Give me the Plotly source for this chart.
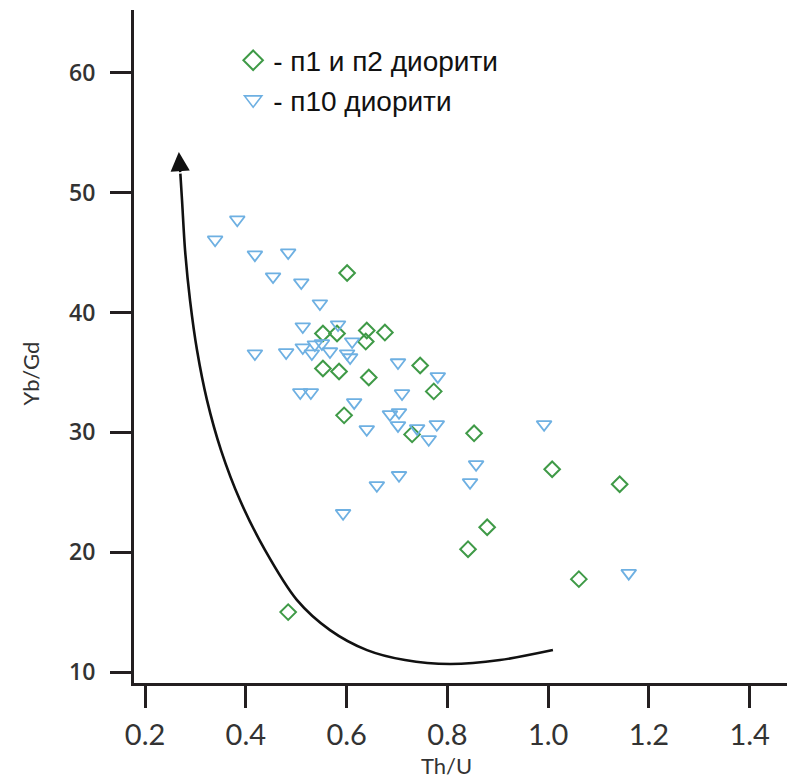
import plotly.graph_objects as go

# п1 и п2 диорити (green diamonds)
d12_thu = [0.601, 0.553, 0.581, 0.640, 0.676, 0.638, 0.553, 0.585, 0.644, 0.746,
           0.773, 0.595, 0.730, 0.853, 1.008, 1.142, 0.879, 0.841, 1.061, 0.484]
d12_ybgd = [43.3, 38.25, 38.25, 38.5, 38.33, 37.58, 35.33, 35.08, 34.58, 35.58,
            33.42, 31.42, 29.83, 29.92, 26.92, 25.67, 22.08, 20.25, 17.75, 15.0]

# п10 диорити (blue triangles)
d10_thu = [0.339, 0.383, 0.418, 0.484, 0.454, 0.510, 0.547, 0.513, 0.583, 0.418,
           0.480, 0.513, 0.531, 0.537, 0.551, 0.567, 0.611, 0.601, 0.607, 0.702,
           0.781, 0.710, 0.508, 0.529, 0.615, 0.686, 0.704, 0.702, 0.640, 0.740,
           0.779, 0.763, 0.704, 0.660, 0.593, 0.857, 0.845, 0.992, 1.160]
d10_ybgd = [46.08, 47.75, 44.83, 45.0, 43.0, 42.5, 40.75, 38.83, 39.0, 36.58,
            36.67, 37.08, 36.58, 37.33, 37.42, 36.75, 37.58, 36.58, 36.25, 35.83,
            34.67, 33.25, 33.33, 33.33, 32.5, 31.5, 31.67, 30.58, 30.25, 30.33,
            30.67, 29.42, 26.42, 25.58, 23.25, 27.33, 25.83, 30.67, 18.25]

# trend arrow path (from right end towards the arrow tip)
curve_thu = [1.0095, 0.9044, 0.8052, 0.7159, 0.6405, 0.5671, 0.5016, 0.4381,
             0.3885, 0.3508, 0.3230, 0.3032, 0.2893, 0.2794, 0.2734, 0.2700]
curve_ybgd = [11.83, 11.0, 10.67, 11.0, 11.83, 13.5, 16.0, 20.17,
              24.33, 28.5, 32.67, 36.83, 41.0, 45.17, 49.33, 51.6]
arrow_tip = (0.2670, 53.4)

x_ticks = [0.2, 0.4, 0.6, 0.8, 1.0, 1.2, 1.4]
x_ticktext = ["0.2", "0.4", "0.6", "0.8", "1.0", "1.2", "1.4"]
y_ticks = [10, 20, 30, 40, 50, 60]

green = "#3f9a47"
blue = "#6eb0e2"
axis_col = "#231f20"

fig = go.Figure()

fig.add_trace(go.Scatter(
    x=curve_thu, y=curve_ybgd, mode="lines",
    line=dict(color="#111111", width=2.6, shape="spline", smoothing=0.9),
    showlegend=False, hoverinfo="skip"))

fig.add_trace(go.Scatter(
    x=d12_thu, y=d12_ybgd, mode="markers", name="- п1 и п2 диорити",
    legendgroup="a", showlegend=False,
    marker=dict(symbol="diamond-open", size=12, color=green, line=dict(width=2, color=green))))

fig.add_trace(go.Scatter(
    x=d10_thu, y=d10_ybgd, mode="markers", name="- п10 диорити",
    legendgroup="b", showlegend=False,
    marker=dict(symbol="triangle-down-open", size=13, color=blue, line=dict(width=1.8, color=blue))))

# legend entries (larger symbols, as in the reference legend)
fig.add_trace(go.Scatter(
    x=[None], y=[None], mode="markers", name="- п1 и п2 диорити", legendgroup="a",
    marker=dict(symbol="diamond-open", size=15, color=green, line=dict(width=2, color=green))))
fig.add_trace(go.Scatter(
    x=[None], y=[None], mode="markers", name="- п10 диорити", legendgroup="b",
    marker=dict(symbol="triangle-down-open", size=15, color=blue, line=dict(width=1.6, color=blue))))

fig.add_annotation(
    x=arrow_tip[0], y=arrow_tip[1], ax=curve_thu[-1], ay=curve_ybgd[-1],
    xref="x", yref="y", axref="x", ayref="y", text="", showarrow=True,
    arrowhead=2, arrowsize=1.6, arrowwidth=2.4, arrowcolor="#111111", standoff=0)

fig.add_annotation(
    x=0.5, xref="paper", y=-0.123, yref="paper", text="Th/U", showarrow=False,
    xshift=-18, font=dict(family="Lato", size=22, color="#333333"), yanchor="middle")

fig.add_annotation(
    x=0, xref="paper", y=0.46, yref="paper", text="Yb/Gd", showarrow=False,
    xshift=-104, textangle=-90, font=dict(family="Lato", size=22, color="#333333"),
    xanchor="center", yanchor="middle")

fig.update_xaxes(
    range=[0.178, 1.49], tickvals=x_ticks, ticktext=x_ticktext,
    showgrid=False, zeroline=False, showline=True, linewidth=3, linecolor=axis_col,
    ticks="outside", ticklen=22, tickwidth=3, tickcolor=axis_col,
    ticklabelstandoff=2,
    tickfont=dict(family="Lato", size=29, color="#333333"))

fig.update_yaxes(
    range=[9.083, 65.25], tickvals=y_ticks,
    showgrid=False, zeroline=False, showline=True, linewidth=3, linecolor=axis_col,
    ticks="outside", ticklen=21, tickwidth=3, tickcolor=axis_col,
    ticklabelstandoff=10,
    tickfont=dict(family="Open Sans", size=23, color="#333333", weight=600))

fig.update_layout(
    width=795, height=783,
    margin=dict(l=126, r=8, t=2, b=108),
    plot_bgcolor="white", paper_bgcolor="white",
    legend=dict(x=0.15, y=0.962, xanchor="left", yanchor="top",
                font=dict(family="Liberation Sans", size=28, color="#111111"),
                bgcolor="rgba(0,0,0,0)", tracegroupgap=0),
)

fig.write_html("out.html")
